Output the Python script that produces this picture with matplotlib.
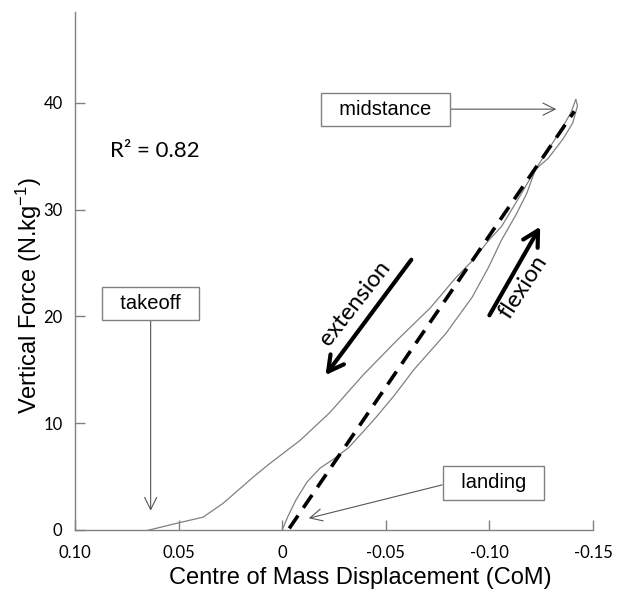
import matplotlib
matplotlib.use("Agg")
import matplotlib.pyplot as plt

# loop of vertical force vs CoM displacement
# flexion: landing -> midstance
flexion_x = [0.0, -0.0027, -0.0066, -0.0120, -0.0183, -0.0245, -0.0320,
             -0.0400, -0.0455, -0.0541, -0.0635, -0.0790, -0.0917, -0.0996,
             -0.1057, -0.1128, -0.1180, -0.1222, -0.1284, -0.1347, -0.1394,
             -0.1417]
flexion_y = [0.0, 1.25, 2.8, 4.5, 5.8, 6.6, 7.7,
             9.4, 10.6, 12.6, 15.0, 18.4, 21.8, 24.6,
             27.1, 29.5, 31.5, 33.75, 35.6, 37.5, 39.1,
             40.3]

# extension: midstance -> takeoff
extension_x = [-0.1417, -0.1425, -0.1402, -0.1355, -0.1284, -0.1222, -0.1147,
               -0.1058, -0.0996, -0.0917, -0.0837, -0.0715, -0.0556, -0.0390,
               -0.0230, -0.0087, 0.0068, 0.0140, 0.0285, 0.0382, 0.0504,
               0.0663, 0.0673]
extension_y = [40.3, 39.7, 38.1, 36.6, 34.8, 33.75, 31.25,
               28.4, 27.1, 25.2, 23.6, 20.8, 17.8, 14.5,
               11.0, 8.4, 6.1, 4.95, 2.5, 1.2, 0.65,
               -0.1, -0.3]

# regression line
fit_x = [-0.0034, -0.141]
fit_y = [0.15, 39.2]
r2 = 0.82

xticks = [0.10, 0.05, 0.0, -0.05, -0.10, -0.15]
xtick_labels = ["0.10", "0.05", "0", "-0.05", "-0.10", "-0.15"]
yticks = [0, 10, 20, 30, 40]

plt.rcParams["mathtext.fontset"] = "custom"
plt.rcParams["mathtext.rm"] = "Liberation Sans"
plt.rcParams["mathtext.it"] = "Liberation Sans"

fig = plt.figure(figsize=(6.17, 5.89), dpi=100)
ax = fig.add_axes([0.1216, 0.1002, 0.8395, 0.8795])

grey = "#808080"
ax.plot(flexion_x, flexion_y, color=grey, lw=0.9)
ax.plot(extension_x, extension_y, color=grey, lw=0.9)
ax.plot(fit_x, fit_y, color="black", lw=2.6, dashes=(4.3, 2.6),
        dash_capstyle="butt")

ax.set_xlim(0.10, -0.15)
ax.set_ylim(0, 48.5)
ax.set_xticks(xticks)
ax.set_xticklabels(xtick_labels)
ax.set_yticks(yticks)

for s in ["top", "right"]:
    ax.spines[s].set_visible(False)
for s in ["left", "bottom"]:
    ax.spines[s].set_color(grey)
    ax.spines[s].set_linewidth(1.0)

ax.tick_params(direction="in", length=7, width=1, color=grey, labelsize=12)
ax.tick_params(axis="y", pad=9)
ax.tick_params(axis="x", pad=11)
for lab in ax.get_xticklabels() + ax.get_yticklabels():
    lab.set_family("Lato")

ax.set_xlabel("Centre of Mass Displacement (CoM)", family="Liberation Sans",
              fontsize=17)
ax.set_ylabel("Vertical Force (N.kg$^{-1}$)", family="Liberation Sans",
              fontsize=17)
ax.xaxis.set_label_coords(0.55, -0.072)
ax.yaxis.set_label_coords(-0.06, 0.452)

ax.text(0.083, 35.5, "R² = " + str(r2), family="Lato", fontsize=16,
        ha="left", va="center")

# labelled boxes with thin arrows
box = dict(boxstyle="square,pad=0.35", fc="white", ec=grey, lw=1.0)
arr = dict(arrowstyle="->,head_length=0.6,head_width=0.3", color="#555555",
           lw=0.8, shrinkA=0, shrinkB=0)

ax.annotate("  midstance  ", xy=(-0.1323, 39.4), xytext=(-0.0499, 39.4),
            ha="center", va="center", family="Liberation Sans", fontsize=14.5,
            bbox=box, arrowprops=dict(arr, relpos=(1, 0.5)))
ax.annotate("  takeoff  ", xy=(0.0635, 1.8), xytext=(0.0635, 21.2),
            ha="center", va="center", family="Liberation Sans", fontsize=14.5,
            bbox=box, arrowprops=dict(arr, relpos=(0.5, 0)))
ax.annotate("  landing  ", xy=(-0.0128, 1.1), xytext=(-0.102, 4.4),
            ha="center", va="center", family="Liberation Sans", fontsize=14.5,
            bbox=box, arrowprops=dict(arr, relpos=(0, 0.5)))

# thick direction arrows
thick = dict(arrowstyle="->,head_length=0.55,head_width=0.3", color="black",
             lw=3, shrinkA=0, shrinkB=0, mutation_scale=20)
ax.annotate("", xy=(-0.0209, 14.5), xytext=(-0.0623, 25.3), arrowprops=thick)
ax.annotate("", xy=(-0.1245, 28.4), xytext=(-0.1000, 20.1), arrowprops=thick)

ax.text(-0.035, 21.25, "extension", family="Lato", fontsize=17,
        rotation=52, ha="center", va="center", rotation_mode="anchor")
ax.text(-0.1163, 22.8, "flexion", family="Lato", fontsize=17,
        rotation=57, ha="center", va="center", rotation_mode="anchor")

fig.savefig("out.png", dpi=100)
